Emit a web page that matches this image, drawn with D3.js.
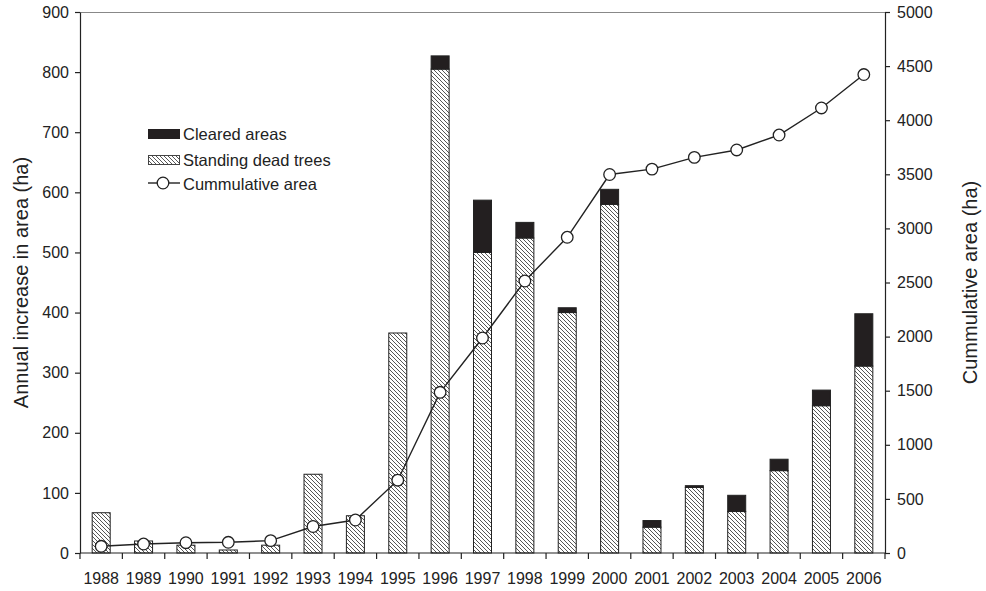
<!DOCTYPE html>
<html>
<head>
<meta charset="utf-8">
<script src="https://cdn.jsdelivr.net/npm/d3@7"></script>
<style>
  html, body { margin: 0; padding: 0; background: #fff; }
  svg { display: block; font-family: "Liberation Sans", Arial, sans-serif; }
</style>
</head>
<body>
<svg id="chart" width="986" height="591"></svg>
<script>
// Annual increase in affected area, split into standing dead trees and cleared areas (ha)
const years = ["1988","1989","1990","1991","1992","1993","1994","1995","1996","1997",
               "1998","1999","2000","2001","2002","2003","2004","2005","2006"];
const standingDead = [67, 20, 13, 5, 13, 131, 62, 366, 805, 500, 524, 400, 580, 43, 109, 69, 137, 245, 311];
const cleared      = [0, 0, 0, 0, 0, 0, 0, 0, 22, 87, 26, 8, 25, 11, 3, 27, 19, 26, 87];
// Cumulative affected area (ha), right axis
const cumulative   = [62, 83, 95, 99, 114, 245, 305, 673, 1485, 1987, 2514, 2918, 3498, 3548, 3656, 3725, 3863, 4113, 4422];

const leftTicks  = [0, 100, 200, 300, 400, 500, 600, 700, 800, 900];
const rightTicks = [0, 500, 1000, 1500, 2000, 2500, 3000, 3500, 4000, 4500, 5000];

const margin = { left: 80, right: 885, top: 12, bottom: 553 };
const svg = d3.select("#chart");

const x = d3.scaleBand().domain(years).range([margin.left, margin.right])
  .paddingInner(0.575).paddingOuter(0.2875);
const yL = d3.scaleLinear().domain([0, 900]).range([margin.bottom, margin.top]);
const yR = d3.scaleLinear().domain([0, 5000]).range([margin.bottom, margin.top]);

// Hatch pattern for standing dead trees
const defs = svg.append("defs");
const pat = defs.append("pattern").attr("id", "hatch")
  .attr("patternUnits", "userSpaceOnUse").attr("width", 4).attr("height", 4);
pat.append("rect").attr("width", 4).attr("height", 4).attr("fill", "#fff");
pat.append("path").attr("d", "M-1,-1 L5,5 M-1,3 L1,5 M3,-1 L5,1")
  .attr("stroke", "#444").attr("stroke-width", 0.9);

// Frame: top line
svg.append("line").attr("x1", margin.left).attr("x2", margin.right)
  .attr("y1", margin.top + 0.5).attr("y2", margin.top + 0.5)
  .attr("stroke", "#888").attr("stroke-width", 1);

// Bars
const rows = years.map((yr, i) => ({ yr, s: standingDead[i], c: cleared[i] }));
const bars = svg.append("g");
bars.selectAll("rect.s").data(rows).join("rect").attr("class", "s")
  .attr("x", d => x(d.yr)).attr("width", x.bandwidth())
  .attr("y", d => yL(d.s)).attr("height", d => yL(0) - yL(d.s))
  .attr("fill", "url(#hatch)").attr("stroke", "#222").attr("stroke-width", 1);
bars.selectAll("rect.c").data(rows.filter(d => d.c > 0)).join("rect").attr("class", "c")
  .attr("x", d => x(d.yr)).attr("width", x.bandwidth())
  .attr("y", d => yL(d.s + d.c)).attr("height", d => yL(d.s) - yL(d.s + d.c))
  .attr("fill", "#231f20").attr("stroke", "#222").attr("stroke-width", 1);

// Axes
const fontSize = "16px";
const axL = svg.append("g").attr("transform", `translate(${margin.left},0)`)
  .call(d3.axisLeft(yL).tickValues(leftTicks).tickFormat(d3.format("d"))
    .tickSize(5).tickPadding(6).tickSizeOuter(0));
const axR = svg.append("g").attr("transform", `translate(${margin.right},0)`)
  .call(d3.axisRight(yR).tickValues(rightTicks).tickFormat(d3.format("d"))
    .tickSize(5).tickPadding(7).tickSizeOuter(0));
[axL, axR].forEach(a => {
  a.attr("font-size", null).attr("font-family", null);
  a.selectAll("text").attr("font-size", fontSize).attr("fill", "#222");
  a.selectAll("line, path").attr("stroke", "#222").attr("stroke-width", 1.2);
});

// Category axis with ticks at band boundaries
const step = x.step();
const bounds = d3.range(years.length + 1).map(i => margin.left + i * step);
const axB = svg.append("g");
axB.append("line").attr("x1", margin.left).attr("x2", margin.right)
  .attr("y1", margin.bottom).attr("y2", margin.bottom).attr("stroke", "#222").attr("stroke-width", 1.2);
axB.selectAll("line.t").data(bounds).join("line").attr("class", "t")
  .attr("x1", d => d).attr("x2", d => d).attr("y1", margin.bottom).attr("y2", margin.bottom + 6)
  .attr("stroke", "#222").attr("stroke-width", 1.2);
axB.selectAll("text").data(years).join("text")
  .attr("x", d => x(d) + x.bandwidth() / 2).attr("y", 584)
  .attr("text-anchor", "middle").attr("font-size", fontSize).attr("fill", "#222")
  .text(d => d);

// Axis titles
const midY = (margin.top + margin.bottom) / 2;
svg.append("text").attr("transform", `translate(28,${midY}) rotate(-90)`)
  .attr("text-anchor", "middle").attr("font-size", "20px").attr("fill", "#222")
  .text("Annual increase in area (ha)");
svg.append("text").attr("transform", `translate(977,${midY}) rotate(-90)`)
  .attr("text-anchor", "middle").attr("font-size", "20px").attr("fill", "#222")
  .text("Cummulative area (ha)");

// Cumulative line with open circles
const pts = years.map((yr, i) => [x(yr) + x.bandwidth() / 2, yR(cumulative[i])]);
svg.append("path").attr("d", d3.line()(pts)).attr("fill", "none")
  .attr("stroke", "#222").attr("stroke-width", 1.4);
svg.append("g").selectAll("circle").data(pts).join("circle")
  .attr("cx", d => d[0]).attr("cy", d => d[1]).attr("r", 5.8)
  .attr("fill", "#fff").attr("stroke", "#222").attr("stroke-width", 1.3);

// Legend
const lg = svg.append("g").attr("transform", "translate(148,0)");
lg.append("rect").attr("x", 0).attr("y", 129).attr("width", 32).attr("height", 10)
  .attr("fill", "#231f20");
lg.append("rect").attr("x", 0.5).attr("y", 155.5).attr("width", 31).attr("height", 9)
  .attr("fill", "url(#hatch)").attr("stroke", "#444").attr("stroke-width", 1);
lg.append("line").attr("x1", 0).attr("x2", 32).attr("y1", 183).attr("y2", 183)
  .attr("stroke", "#222").attr("stroke-width", 1.4);
lg.append("circle").attr("cx", 15).attr("cy", 183).attr("r", 5.8)
  .attr("fill", "#fff").attr("stroke", "#222").attr("stroke-width", 1.3);
const labels = ["Cleared areas", "Standing dead trees", "Cummulative area"];
const labelY = [139.5, 165.5, 189.5];
lg.selectAll("text").data(labels).join("text")
  .attr("x", 35).attr("y", (d, i) => labelY[i])
  .attr("font-size", "16.5px").attr("fill", "#222").text(d => d);
</script>
</body>
</html>
